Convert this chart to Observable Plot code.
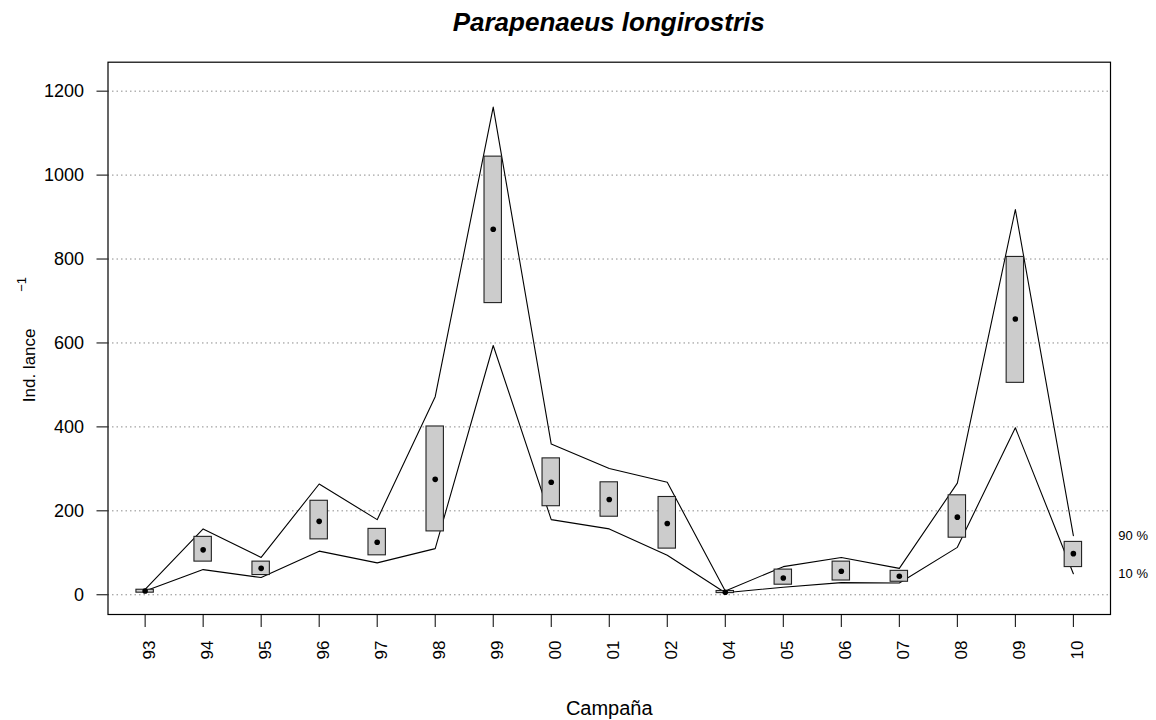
<!DOCTYPE html>
<html>
<head>
<meta charset="utf-8">
<script src="https://cdn.jsdelivr.net/npm/d3@7"></script>
<script src="https://cdn.jsdelivr.net/npm/@observablehq/plot@0.6"></script>
<style>
  html, body { margin: 0; padding: 0; background: white; }
  #title {
    margin-left: 107.5px; width: 1002.5px; height: 44px; line-height: 44px;
    text-align: center; font-family: "Liberation Sans", Arial, sans-serif;
    font-size: 26px; font-weight: bold; font-style: italic; color: black;
  }
  #chart svg { display: block; }
</style>
</head>
<body>
<div id="title">Parapenaeus longirostris</div>
<div id="chart"></div>
<script>
// Survey campaigns (x categories)
const campaigns = ["93","94","95","96","97","98","99","00","01","02","04","05","06","07","08","09","10"];
// Mean individuals per haul
const meanVals  = [9, 107, 63, 175, 125, 275, 871, 268, 227, 170, 6, 40, 56, 44, 185, 657, 98];
// Box lower / upper limits
const boxLow    = [5, 79, 47, 132, 94, 151, 695, 211, 186, 110, 4, 24, 34, 31, 136, 505, 66];
const boxHigh   = [12, 138, 79, 224, 157, 401, 1044, 325, 268, 233, 9, 60, 79, 57, 237, 805, 126];
// 90 % and 10 % bootstrap lines
const upper90   = [13, 157, 89, 264, 179, 472, 1162, 359, 301, 268, 9, 67, 89, 63, 266, 918, 141];
const lower10   = [9, 60, 41, 104, 76, 110, 594, 179, 157, 94, 5, 18, 29, 28, 113, 398, 50];
// Axis ticks
const yTicks = [0, 200, 400, 600, 800, 1000, 1200];
const xTicks = d3.range(campaigns.length);

const rows = campaigns.map((c, i) => ({
  i, c, mean: meanVals[i], lo: boxLow[i], hi: boxHigh[i], up: upper90[i], low: lower10[i]
}));
const last = rows[rows.length - 1];

const chart = Plot.plot({
  width: 1156,
  height: 676,
  marginTop: 17.7,
  marginBottom: 106,
  marginLeft: 107.5,
  marginRight: 46,
  style: { fontFamily: "Liberation Sans, Arial, sans-serif", fontSize: "17px", background: "white", color: "black" },
  x: { type: "linear", domain: [-0.64, 16.64], label: null },
  y: { type: "linear", domain: [-47, 1269], label: null },
  marks: [
    Plot.ruleY(yTicks, { stroke: "#8c8c8c", strokeDasharray: "1.5,3", strokeWidth: 1 }),
    Plot.line(rows, { x: "i", y: "up", stroke: "black", strokeWidth: 1.1 }),
    Plot.line(rows, { x: "i", y: "low", stroke: "black", strokeWidth: 1.1 }),
    Plot.rect(rows, { x1: d => d.i - 0.15, x2: d => d.i + 0.15, y1: "lo", y2: "hi", fill: "#cccccc", stroke: "#222", strokeWidth: 1.1 }),
    Plot.dot(rows, { x: "i", y: "mean", r: 2.8, fill: "black", stroke: "none" }),
    Plot.frame({ stroke: "black", strokeWidth: 1.2 }),
    Plot.axisY(yTicks, { tickSize: 11, tickPadding: 13, fontSize: 18, tickFormat: d => String(d), label: null }),
    Plot.axisX(xTicks, { tickSize: 13, tickFormat: () => "", label: null }),
    Plot.axisX(xTicks, { tickSize: 0, tickPadding: 26, tickRotate: -90, tickFormat: i => campaigns[i], fontSize: 17, dx: 4, label: null }),
    Plot.text(["Campaña"], { frameAnchor: "bottom", lineAnchor: "middle", textAnchor: "middle", dy: 94, fontSize: 20 }),
    Plot.text(["Ind. lance"], { frameAnchor: "left", textAnchor: "middle", lineAnchor: "middle", rotate: -90, dx: -78.5, dy: 27, fontSize: 17 }),
    Plot.text(["−1"], { frameAnchor: "left", textAnchor: "middle", lineAnchor: "middle", rotate: -90, dx: -86, dy: -54, fontSize: 13 }),
    Plot.text([last], { x: "i", y: "up", text: () => "90 %", dx: 45, textAnchor: "start", fontSize: 13 }),
    Plot.text([last], { x: "i", y: "low", text: () => "10 %", dx: 45, textAnchor: "start", fontSize: 13 })
  ]
});
document.getElementById("chart").appendChild(chart);
</script>
</body>
</html>
